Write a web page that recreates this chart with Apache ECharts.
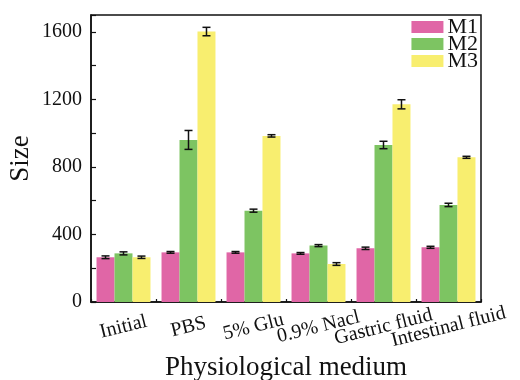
<!DOCTYPE html>
<html>
<head>
<meta charset="utf-8">
<script src="https://cdn.jsdelivr.net/npm/echarts@6/dist/echarts.min.js"></script>
<style>html,body{margin:0;padding:0;background:#fff}#c{width:520px;height:380px}</style>
</head>
<body>
<div id="c"></div>
<script>
const categories = ['Initial', 'PBS', '5% Glu', '0.9% Nacl', 'Gastric fluid', 'Intestinal fluid'];
const seriesNames = ['M1', 'M2', 'M3'];
const m1 = [265, 294, 294, 288, 318, 324];
const m2 = [288, 960, 541, 334, 930, 575];
const m3 = [265, 1602, 984, 225, 1171, 857];
const m1Err = [8, 5, 5, 5, 7, 6];
const m2Err = [9, 56, 9, 6, 22, 10];
const m3Err = [7, 25, 7, 8, 27, 6];
const yTicks = [0, 400, 800, 1200, 1600];
const colors = ['#E066A6', '#7DC462', '#F8EE6F'];

const font = 'Liberation Serif';
const catGap = 0.17;
const values = [m1, m2, m3];
const errs = [m1Err, m2Err, m3Err];

const chart = echarts.init(document.getElementById('c'), null, {renderer: 'canvas'});

const barSeries = seriesNames.map((n, i) => ({
  name: n, type: 'bar', data: values[i],
  itemStyle: {color: colors[i]},
  barGap: '0%', barCategoryGap: (catGap * 100) + '%',
  xAxisIndex: 0, yAxisIndex: 0, z: 2
}));

const errSeries = seriesNames.map((n, i) => ({
  type: 'custom', name: n + '_err', xAxisIndex: 0, yAxisIndex: 0, z: 5,
  silent: true,
  data: values[i].map((v, k) => [k, v - errs[i][k], v + errs[i][k]]),
  encode: {x: 0, y: [1, 2]},
  renderItem: function (params, api) {
    const k = api.value(0);
    const lo = api.coord([k, api.value(1)]);
    const hi = api.coord([k, api.value(2)]);
    const band = api.size([1, 0])[0];
    const bw = band * (1 - catGap) / 3;
    const x = lo[0] + (i - 1) * bw;
    const cap = 4;
    const st = {stroke: '#111', lineWidth: 1.5};
    return {type: 'group', children: [
      {type: 'line', shape: {x1: x, y1: lo[1], x2: x, y2: hi[1]}, style: st},
      {type: 'line', shape: {x1: x - cap, y1: lo[1], x2: x + cap, y2: lo[1]}, style: st},
      {type: 'line', shape: {x1: x - cap, y1: hi[1], x2: x + cap, y2: hi[1]}, style: st}
    ]};
  }
}));

chart.setOption({
  animation: false,
  backgroundColor: '#fff',
  grid: {left: 91, right: 39, top: 15, bottom: 78, outerBoundsMode: 'none', containLabel: false,
    show: true, borderColor: '#111', borderWidth: 1.5, backgroundColor: 'transparent'},
  legend: {
    data: seriesNames, orient: 'vertical', right: 42, top: 16, padding: 0,
    itemWidth: 32, itemHeight: 12, itemGap: -5,
    icon: 'rect',
    textStyle: {fontFamily: font, fontSize: 22, color: '#111', padding: [0, 0, 0, -1]}
  },
  xAxis: [{
    type: 'category', data: categories,
    axisLine: {lineStyle: {color: '#111', width: 1.5}},
    axisTick: {show: true, inside: true, length: 3, lineStyle: {color: '#111', width: 1.2}},
    axisLabel: {
      fontFamily: font, fontSize: 20, color: '#111', rotate: 14,
      align: 'center', verticalAlign: 'middle', margin: 25, interval: 0
    },
    name: 'Physiological medium', nameLocation: 'middle', nameGap: 52, nameMoveOverlap: false,
    nameTextStyle: {fontFamily: font, fontSize: 27, color: '#111'}
  }, {
    type: 'category', data: categories, position: 'bottom',
    axisLine: {show: false},
    axisTick: {show: true, inside: true, length: 5, alignWithLabel: true, lineStyle: {color: '#111', width: 1.2}},
    axisLabel: {show: false}
  }],
  yAxis: {
    type: 'value', min: 0, max: 1700, interval: 200,
    splitLine: {show: false},
    axisLine: {show: true, lineStyle: {color: '#111', width: 1.5}},
    axisTick: {show: true, inside: true, length: 5, lineStyle: {color: '#111', width: 1.2}},
    axisLabel: {
      fontFamily: font, fontSize: 20, color: '#111', margin: 9,
      formatter: v => yTicks.indexOf(v) >= 0 ? String(v) : ''
    },
    name: 'Size', nameLocation: 'middle', nameGap: 57, nameMoveOverlap: false,
    nameTextStyle: {fontFamily: font, fontSize: 27, color: '#111'}
  },
  series: barSeries.concat(errSeries)
});
</script>
</body>
</html>
